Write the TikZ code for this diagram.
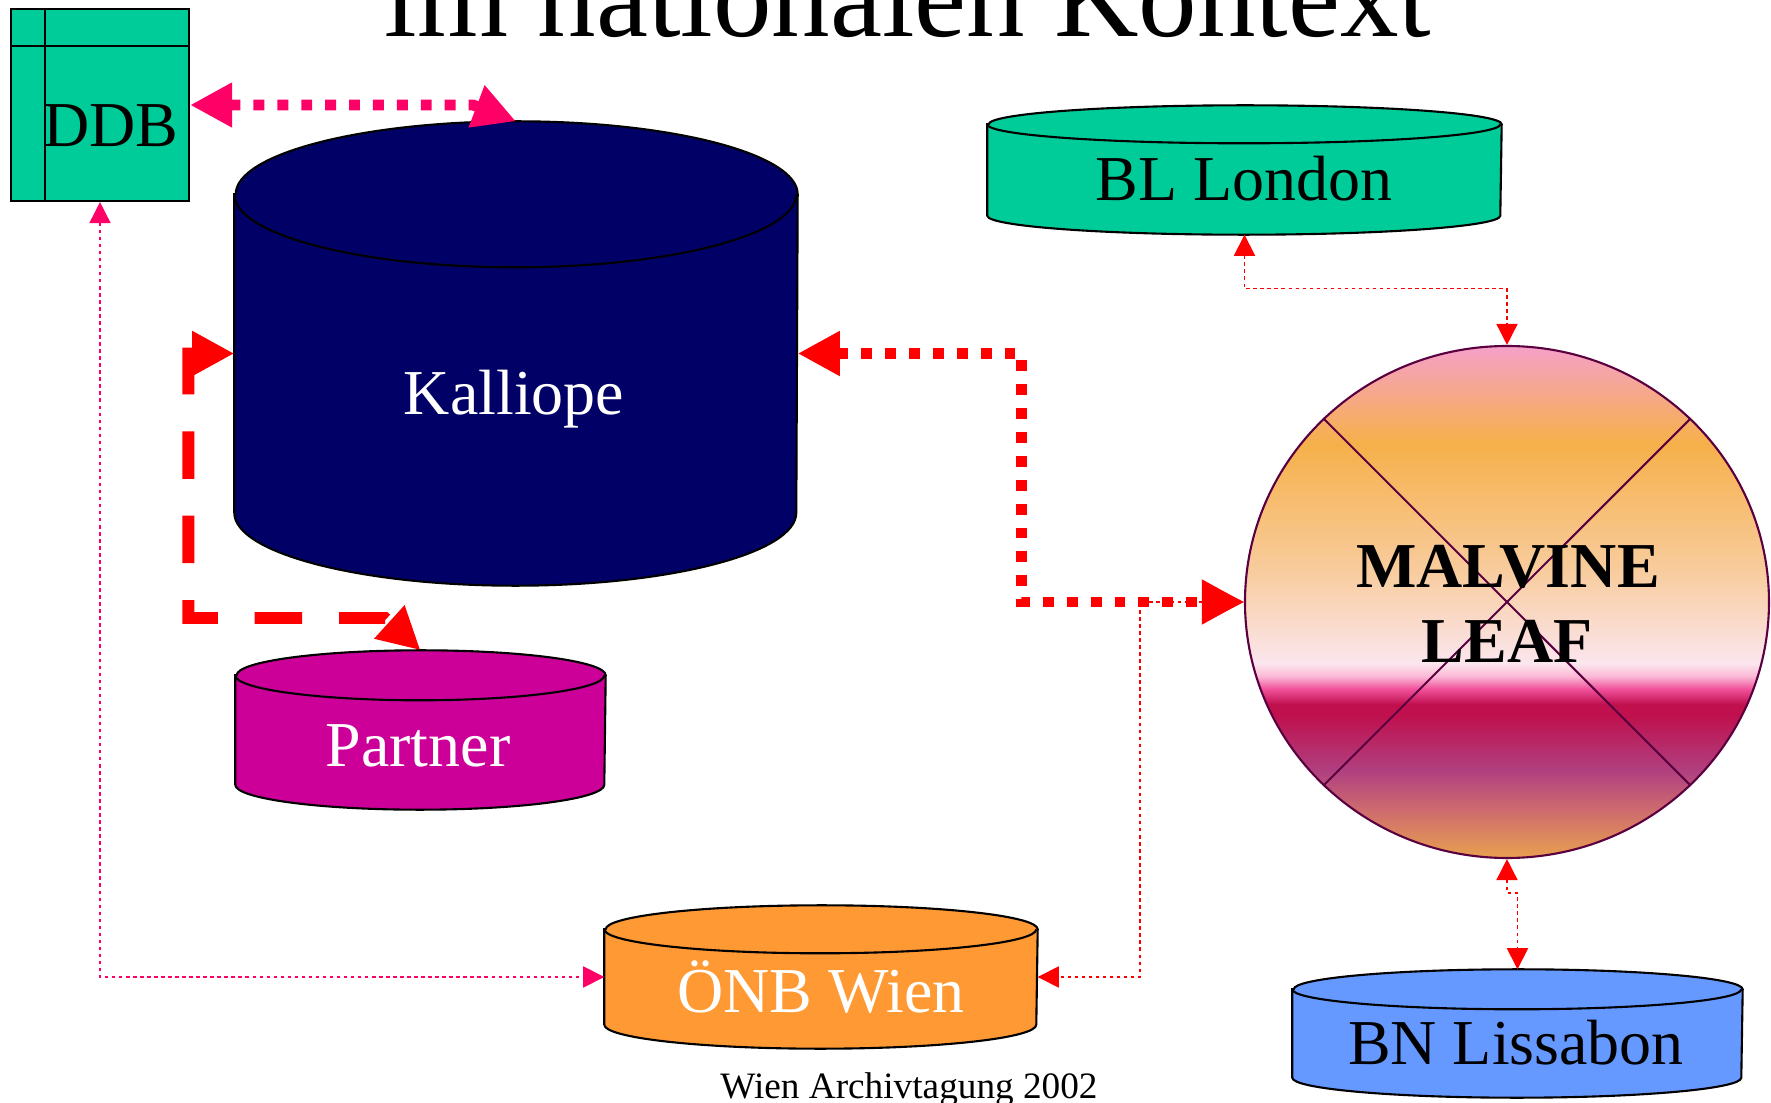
\documentclass[tikz,border=0pt]{standalone}
\usepackage{fontspec}
\setmainfont{Liberation Serif}
\usetikzlibrary{shapes.geometric,arrows.meta}

\definecolor{ddbgreen}{HTML}{00CC99}
\definecolor{kalnavy}{HTML}{000066}
\definecolor{partmag}{HTML}{CC0099}
\definecolor{onborange}{HTML}{FF9933}
\definecolor{bnblue}{HTML}{6699FF}
\definecolor{linkpink}{HTML}{FF0066}
\definecolor{leafrim}{HTML}{5A0040}
% colours of the MALVINE disc, bottom to top
\definecolor{leafA}{HTML}{E8A050}
\definecolor{leafB}{HTML}{CC6870}
\definecolor{leafC}{HTML}{B0407F}
\definecolor{leafD}{HTML}{C0104E}
\definecolor{leafE}{HTML}{F0509A}
\definecolor{leafF}{HTML}{FBB8D6}
\definecolor{leafG}{HTML}{FBE6EE}
\definecolor{leafH}{HTML}{F8CC9E}
\definecolor{leafI}{HTML}{F6B04A}
\definecolor{leafJ}{HTML}{F5A0C8}

\pgfdeclareverticalshading{leafshade}{100bp}{color(0bp)=(leafA); color(25bp)=(leafA);
  color(30bp)=(leafB); color(33.5bp)=(leafC); color(39bp)=(leafD); color(40bp)=(leafD);
  color(41.5bp)=(leafE); color(42.75bp)=(leafF); color(44bp)=(leafG); color(53bp)=(leafH);
  color(65.5bp)=(leafI); color(75bp)=(leafJ); color(100bp)=(leafJ)}

% database drum drawn over a named box: node, x radius, y radius, fill
\newcommand{\dbdisk}[4]{%
  \draw[line width=0.6pt, fill=#4] ([yshift=-#3]#1.north west) -- ([yshift=#3]#1.south west)
    arc[start angle=180, end angle=360, x radius=#2, y radius=#3]
    -- ([yshift=-#3]#1.north east)
    arc[start angle=0, end angle=180, x radius=#2, y radius=#3] -- cycle;
  \draw[line width=0.6pt] ([yshift=-#3]#1.north west)
    arc[start angle=180, end angle=360, x radius=#2, y radius=#3];}

\tikzset{
  dbbox/.style={inner sep=0pt},
  lbl/.style={font=\fontsize{18.2}{20}\selectfont, anchor=base, inner sep=0pt},
  thinlink/.style={red, line width=0.45pt, dash pattern=on 1pt off 1pt,
    >={Triangle[length=6pt,width=6pt]}, <->},
  dotlink/.style={line width=3.1pt, dash pattern=on 3.1pt off 3.7pt,
    >={Triangle[length=12pt,width=12pt]}, <->},
  dashlink/.style={red, line width=3.4pt, dash pattern=on 13.5pt off 10.5pt,
    >={Triangle[length=12pt,width=12pt]}, <->}
}

\begin{document}
\begin{tikzpicture}
  \useasboundingbox (0,0) rectangle (17.71,-11.03);
  \clip (0,0) rectangle (17.71,-11.03);

  % title line and footer
  \node[anchor=base, inner sep=0pt, font=\fontsize{33.3}{40}\selectfont] (title) at (9.08,-0.37) {im nationalen Kontext};
  \node[anchor=base, inner sep=0pt, font=\fontsize{10.6}{12}\selectfont] (footer) at (9.09,-10.98) {Wien Archivtagung 2002};

  % DDB
  \node[draw=black, line width=0.6pt, fill=ddbgreen, minimum width=1.78cm, minimum height=1.92cm] (ddb) at (1.00,-1.05) {};
  \draw[line width=0.6pt] ([xshift=0.35cm]ddb.north west) -- ([xshift=0.35cm]ddb.south west);
  \draw[line width=0.6pt] ([yshift=-0.38cm]ddb.north west) -- ([yshift=-0.38cm]ddb.north east);
  \node[lbl] (ddbtext) at (1.11,-1.47) {DDB};

  % the databases
  \node[dbbox, minimum width=5.62cm, minimum height=4.63cm] (kal) at (5.16,-3.535) {};
  \dbdisk{kal}{2.81cm}{0.73cm}{kalnavy}
  \node[lbl, white] (kaltext) at (5.14,-4.15) {Kalliope};

  \node[dbbox, minimum width=3.69cm, minimum height=1.58cm] (part) at (4.205,-7.30) {};
  \dbdisk{part}{1.845cm}{0.25cm}{partmag}
  \node[lbl, white] (parttext) at (4.18,-7.66) {Partner};

  \node[dbbox, minimum width=5.13cm, minimum height=1.28cm] (bl) at (12.445,-1.70) {};
  \dbdisk{bl}{2.565cm}{0.19cm}{ddbgreen}
  \node[lbl] (bltext) at (12.44,-2.01) {BL London};

  \node[dbbox, minimum width=4.32cm, minimum height=1.42cm] (onb) at (8.21,-9.77) {};
  \dbdisk{onb}{2.16cm}{0.24cm}{onborange}
  \node[lbl, white] (onbtext) at (8.21,-10.13) {ÖNB Wien};

  \node[dbbox, minimum width=4.49cm, minimum height=1.27cm] (bn) at (15.175,-10.335) {};
  \dbdisk{bn}{2.245cm}{0.20cm}{bnblue}
  \node[lbl] (bntext) at (15.16,-10.65) {BN Lissabon};

  % MALVINE / LEAF
  \node[ellipse, draw=leafrim, line width=0.6pt, shade, shading=leafshade, minimum width=5.24cm, minimum height=5.12cm, inner sep=0pt] (malv) at (15.07,-6.02) {};
  \draw[leafrim, line width=0.6pt] (malv.45) -- (malv.225);
  \draw[leafrim, line width=0.6pt] (malv.135) -- (malv.-45);
  \node[lbl, font=\fontsize{18.2}{20}\selectfont\bfseries] (malvtext) at (15.08,-5.88) {MALVINE};
  \node[lbl, font=\fontsize{18.2}{20}\selectfont\bfseries] (leaftext) at (15.07,-6.63) {LEAF};

  % thin links
  \draw[thinlink] (bl.south) -- ++(0,-0.54) -| (malv.north);
  \draw[thinlink, linkpink] (ddb.south) |- (onb.west);
  \draw[thinlink] (malv.west) -- ++(-1.04,0) |- (onb.east);
  \draw[thinlink] (malv.south) -- ++(0,-0.34) -| (bn.north);

  % thick links
  \coordinate (ddbbend) at (4.73,-1.05);
  \draw[dotlink, linkpink] (ddb.east) -- (ddbbend) -- (kal.north);
  \draw[dotlink, red] (kal.east) -- ++(2.24,0) |- (malv.west);
  \coordinate (partbend) at (3.85,-6.18);
  \draw[dashlink] (kal.west) -- ++(-0.46,0) |- (partbend) -- (part.north);
\end{tikzpicture}
\end{document}
